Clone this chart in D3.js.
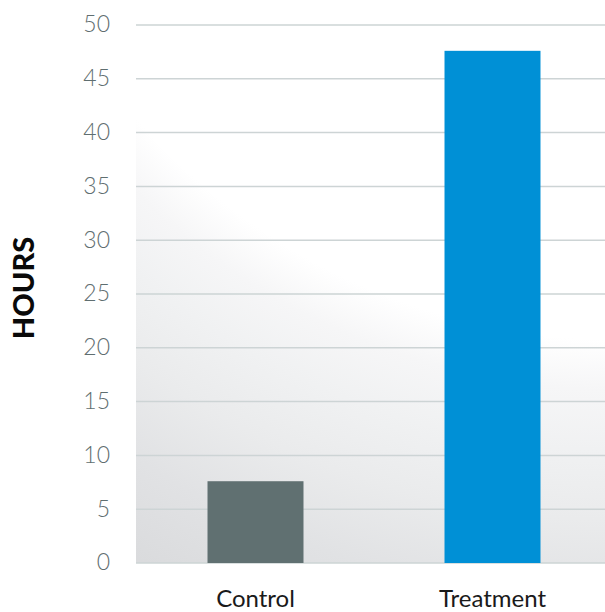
<!DOCTYPE html>
<html><head><meta charset="utf-8">
<script src="https://cdn.jsdelivr.net/npm/d3@7"></script>
<style>html,body{margin:0;padding:0;background:#fff;}svg{display:block;}</style>
</head><body>
<script>
const categories = ["Control", "Treatment"];
const hours = [7.6, 47.6];
const barColors = ["#607071", "#0090d6"];
const tickValues = [0, 5, 10, 15, 20, 25, 30, 35, 40, 45, 50];

const W = 605, H = 612;
const plot = {left: 136, right: 605, top: 25, bottom: 563};

const svg = d3.select("body").append("svg").attr("width", W).attr("height", H);

const defs = svg.append("defs");
const grad = defs.append("radialGradient").attr("id", "bg")
  .attr("gradientUnits", "userSpaceOnUse")
  .attr("cx", 620).attr("cy", -300).attr("r", 1000)
  .attr("fx", 620).attr("fy", -300);
[[0.64, "#ffffff"], [0.69, "#f6f6f7"], [0.75, "#f0f1f2"], [0.82, "#eaebec"], [0.9, "#e1e2e4"], [0.985, "#dadbdd"]]
  .forEach(([o, c]) => grad.append("stop").attr("offset", o).attr("stop-color", c));

const x = d3.scaleBand().domain(categories).range([plot.left + 1, 611]).paddingInner(0.595).paddingOuter(0.2975);
const y = d3.scaleLinear().domain([0, 50]).range([plot.bottom, plot.top]);

svg.append("rect").attr("x", plot.left).attr("y", plot.top)
  .attr("width", plot.right - plot.left).attr("height", plot.bottom - plot.top)
  .attr("fill", "url(#bg)");

// gridlines
svg.append("g").selectAll("line").data(tickValues).join("line")
  .attr("x1", plot.left).attr("x2", plot.right)
  .attr("y1", d => y(d)).attr("y2", d => y(d))
  .attr("stroke", "#cdd4d5").attr("stroke-width", 1.5);

// y axis labels
const yAxis = d3.axisLeft(y).tickValues(tickValues).tickSize(0).tickPadding(0);
const ya = svg.append("g").attr("transform", `translate(110,0)`).call(yAxis);
ya.select(".domain").remove();
ya.selectAll("text").attr("font-family", "Lato, 'Open Sans', sans-serif")
  .attr("font-weight", 300)
  .attr("font-size", 23).attr("fill", "#5f6e70").attr("dy", "0.3em");

// bars
svg.append("g").selectAll("rect").data(categories).join("rect")
  .attr("x", d => x(d)).attr("width", x.bandwidth())
  .attr("y", (d, i) => y(hours[i]))
  .attr("height", (d, i) => y(0) - y(hours[i]))
  .attr("fill", (d, i) => barColors[i]);

// x axis labels
const xAxis = d3.axisBottom(x).tickSize(0).tickPadding(0);
const xa = svg.append("g").attr("transform", `translate(0,607)`).call(xAxis);
xa.select(".domain").remove();
xa.selectAll("text").attr("font-family", "Lato, 'Open Sans', sans-serif")
  .attr("font-weight", 400)
  .attr("font-size", 24).attr("fill", "#1a1a1a").attr("dy", "0");

// y title
svg.append("text").attr("transform", "translate(34,288) rotate(-90)")
  .attr("text-anchor", "middle")
  .attr("font-family", "Lato, 'Open Sans', sans-serif")
  .attr("font-weight", 900).attr("font-size", 29).attr("fill", "#0a0a0a")
  .text("HOURS");
</script>
</body></html>
